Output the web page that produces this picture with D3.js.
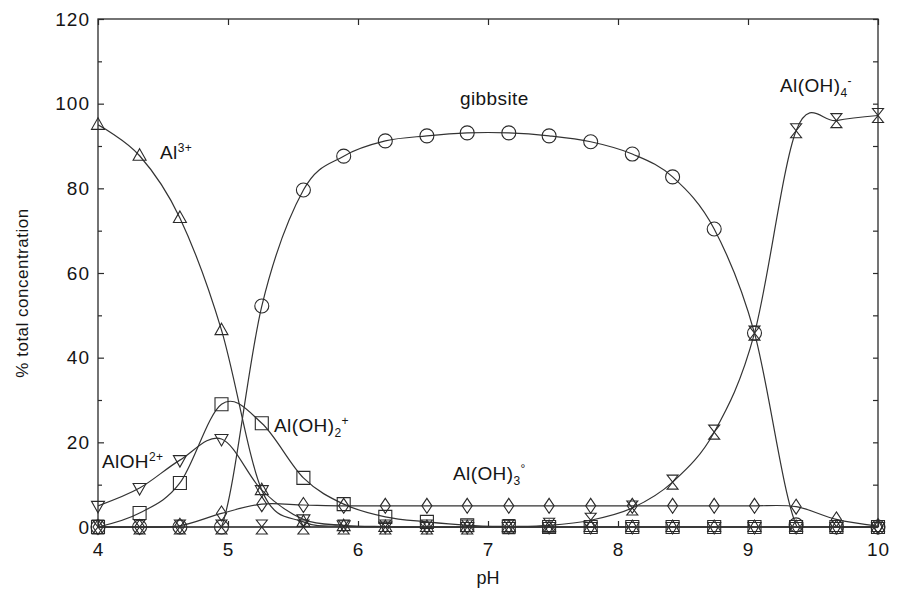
<!DOCTYPE html>
<html>
<head>
<meta charset="utf-8">
<script src="https://cdn.jsdelivr.net/npm/d3@7"></script>
<style>
  body { margin: 0; background: #fff; }
  text { font-family: Arial, "Liberation Sans", sans-serif; fill: #151515; }
</style>
</head>
<body>
<script>
// pH values where the species were computed
var pH = [4.00, 4.32, 4.63, 4.95, 5.26, 5.58, 5.89, 6.21, 6.53, 6.84, 7.16, 7.47, 7.79, 8.11, 8.42, 8.74, 9.05, 9.37, 9.68, 10.00];

// % of total concentration for each species
var al3      = [95.0, 87.7, 73.0, 46.5, 8.7, 1.2, 0.2, 0, 0, 0, 0, 0, 0, 0, 0, 0, 0, 0, 0, 0];
var alOH2    = [5.0, 9.2, 15.8, 20.8, 8.7, 1.8, 0.4, 0.1, 0, 0, 0, 0, 0, 0, 0, 0, 0, 0, 0, 0];
var alOH2p   = [0, 3.3, 10.4, 29.0, 24.5, 11.6, 5.4, 2.4, 1.2, 0.4, 0.1, 0, 0, 0, 0, 0, 0, 0, 0, 0];
var alOH3    = [0, 0, 0.3, 3.2, 5.4, 5.2, 5.0, 5.0, 5.0, 5.0, 5.0, 5.0, 5.0, 5.0, 5.0, 5.0, 5.0, 4.8, 1.8, 0.2];
var alOH4    = [0, 0, 0, 0, 0, 0, 0, 0, 0, 0, 0.1, 0.4, 1.6, 4.5, 10.6, 22.4, 45.8, 93.6, 96.0, 97.2];
var gibbsite = [0, 0, 0, 0, 52.2, 79.6, 87.6, 91.2, 92.4, 93.1, 93.1, 92.4, 91.0, 88.1, 82.7, 70.4, 45.8, 0.5, 0, 0];

var xTicks = [4, 5, 6, 7, 8, 9, 10];
var yTicks = [0, 20, 40, 60, 80, 100, 120];
var yMinor = [10, 30, 50, 70, 90, 110];

var w = 898, h = 593;
var x = d3.scaleLinear().domain([4, 10]).range([98, 878]);
var y = d3.scaleLinear().domain([0, 120]).range([527, 19]);

var svg = d3.select("body").append("svg")
    .attr("width", w)
    .attr("height", h);

svg.append("clipPath").attr("id", "plot")
  .append("rect")
    .attr("x", x(4)).attr("y", y(120))
    .attr("width", x(10) - x(4)).attr("height", y(0) - y(120) + 1);

// frame
svg.append("rect")
    .attr("x", x(4)).attr("y", y(120))
    .attr("width", x(10) - x(4)).attr("height", y(0) - y(120))
    .attr("fill", "none").attr("stroke", "#2a2a2a").attr("stroke-width", 1.3);

// axes, ticks point inward
function styleAxis(g) {
  g.select(".domain").remove();
  g.selectAll("line").attr("stroke", "#2a2a2a").attr("stroke-width", 1.2);
  g.selectAll("text").style("font-size", "19px").style("letter-spacing", "1px").attr("fill", "#151515");
}
svg.append("g").attr("transform", "translate(" + x(4) + ",0)")
  .call(d3.axisLeft(y).tickValues(yTicks).tickSize(-6).tickPadding(8)).call(styleAxis);
svg.append("g").attr("transform", "translate(" + x(4) + ",0)")
  .call(d3.axisLeft(y).tickValues(yMinor).tickSize(-4).tickFormat("")).call(styleAxis);
svg.append("g").attr("transform", "translate(" + x(10) + ",0)")
  .call(d3.axisRight(y).tickValues(yTicks.concat(yMinor)).tickSize(-5).tickFormat("")).call(styleAxis);
svg.append("g").attr("transform", "translate(0," + y(0) + ")")
  .call(d3.axisBottom(x).tickValues(xTicks).tickSize(-6).tickPadding(16).tickFormat(d3.format("d"))).call(styleAxis);
svg.append("g").attr("transform", "translate(0," + y(120) + ")")
  .call(d3.axisTop(x).tickValues(xTicks).tickSize(-6).tickFormat("")).call(styleAxis);

// axis titles
svg.append("text")
    .attr("x", 488).attr("y", 584)
    .attr("text-anchor", "middle")
    .style("font-size", "18px")
    .text("pH");
svg.append("text")
    .attr("transform", "translate(28,293) rotate(-90)")
    .attr("text-anchor", "middle")
    .style("font-size", "17px")
    .style("letter-spacing", "0.5px")
    .text("% total concentration");

// series
var markers = {
  tri:   "M0,-7L6.5,4.5L-6.5,4.5Z",
  itri:  "M0,7L6.5,-4.5L-6.5,-4.5Z",
  sq:    "M-6.5,-6.5H6.5V6.5H-6.5Z",
  dia:   "M0,-7.5L5,0L0,7.5L-5,0Z",
  hour:  "M-5.5,-7H5.5L-5.5,7H5.5Z",
  circ:  "M7,0A7,7 0 1,1 -7,0A7,7 0 1,1 7,0Z"
};
var series = [
  { name: "Al3+", values: al3, marker: "tri" },
  { name: "AlOH2+", values: alOH2, marker: "itri" },
  { name: "Al(OH)2+", values: alOH2p, marker: "sq" },
  { name: "Al(OH)3", values: alOH3, marker: "dia" },
  { name: "Al(OH)4-", values: alOH4, marker: "hour" },
  { name: "gibbsite", values: gibbsite, marker: "circ" }
];

var line = d3.line()
    .x(function(d) { return x(d[0]); })
    .y(function(d) { return y(d[1]); })
    .curve(d3.curveCatmullRom.alpha(0));

series.forEach(function(s) {
  var pts = pH.map(function(p, i) { return [p, s.values[i]]; });
  svg.append("path")
      .datum(pts)
      .attr("clip-path", "url(#plot)")
      .attr("d", line)
      .attr("fill", "none")
      .attr("stroke", "#333")
      .attr("stroke-width", 1.2);
  svg.append("g").selectAll("path")
    .data(pts)
    .enter()
    .append("path")
      .attr("transform", function(d) { return "translate(" + x(d[0]) + "," + y(d[1]) + ")"; })
      .attr("d", markers[s.marker])
      .attr("fill", "none")
      .attr("stroke", "#2a2a2a")
      .attr("stroke-width", 1.1);
});

// species labels: [text, kind] where kind is "", "sub" or "sup"
var labels = [
  { x: 160, y: 159, parts: [["Al", ""], ["3+", "sup"]] },
  { x: 102, y: 468, parts: [["AlOH", ""], ["2+", "sup"]] },
  { x: 274, y: 432, parts: [["Al(OH)", ""], ["2", "sub"], ["+", "sup"]] },
  { x: 453, y: 480, parts: [["Al(OH)", ""], ["3", "sub"], ["°", "sup"]] },
  { x: 780, y: 92, parts: [["Al(OH)", ""], ["4", "sub"], ["-", "sup"]] },
  { x: 460, y: 105, parts: [["gibbsite", ""]] }
];
labels.forEach(function(l) {
  var t = svg.append("text")
      .attr("x", l.x).attr("y", l.y)
      .style("font-size", "19px")
      .style("letter-spacing", "0.4px");
  var shift = 0;
  l.parts.forEach(function(p) {
    var target = p[1] == "sub" ? 5 : (p[1] == "sup" ? -7 : 0);
    t.append("tspan")
      .attr("dy", target - shift)
      .style("font-size", p[1] == "" ? "19px" : "12px")
      .text(p[0]);
    shift = target;
  });
});
</script>
</body>
</html>
